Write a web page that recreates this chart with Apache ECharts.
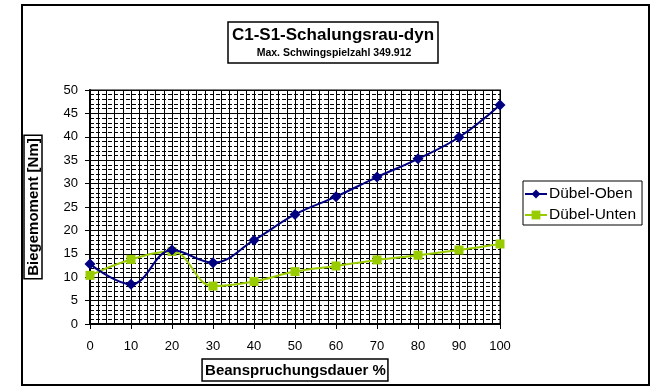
<!DOCTYPE html>
<html><head><meta charset="utf-8">
<script src="https://cdn.jsdelivr.net/npm/echarts@6/dist/echarts.min.js"></script>
<style>html,body{margin:0;padding:0;background:#fff}#c{width:655px;height:390px}</style>
</head><body><div id="c"></div>
<script>
const xValues = [0, 10, 20, 30, 40, 50, 60, 70, 80, 90, 100];
const obenValues = [12.8, 8.5, 15.8, 13.1, 17.9, 23.4, 27.2, 31.4, 35.3, 39.9, 46.8];
const untenValues = [10.4, 13.8, 15.5, 8.1, 9.1, 11.2, 12.4, 13.7, 14.7, 15.8, 17.1];
const seriesNames = ['Dübel-Oben', 'Dübel-Unten'];
const titleText = 'C1-S1-Schalungsrau-dyn';
const subText = 'Max. Schwingspielzahl 349.912';
const xTitle = 'Beanspruchungsdauer %';
const yTitle = 'Biegemoment [Nm]';

const font = 'Arial, "Liberation Sans", sans-serif';
const chart = echarts.init(document.getElementById('c'), null, {renderer: 'canvas'});
const pairs = vals => xValues.map((x, i) => [x, vals[i]]);

chart.setOption({
  animation: false,
  backgroundColor: '#fff',
  textStyle: {fontFamily: font},
  legend: {
    orient: 'vertical', left: 523, top: 181,
    borderColor: '#000', borderWidth: 1,
    padding: [5, 6, 2, 1], itemGap: 5,
    itemWidth: 22, itemHeight: 11,
    textStyle: {fontFamily: font, fontSize: 15.5, color: '#000', padding: [0, 0, 0, -3]},
    data: seriesNames
  },
  graphic: [{
    type: 'rect', shape: {x: 22, y: 5, width: 627, height: 380},
    style: {fill: 'none', stroke: '#000', lineWidth: 2}, z: 100, silent: true
  }, {
    type: 'rect', shape: {x: 228, y: 22, width: 210, height: 41},
    style: {fill: '#fff', stroke: '#000', lineWidth: 1.5}, z: 100, silent: true
  }, {
    type: 'text', x: 333, y: 35, z: 101, silent: true,
    style: {text: titleText, font: 'bold 17px ' + font, fill: '#000', align: 'center', verticalAlign: 'middle'}
  }, {
    type: 'text', x: 334, y: 53, z: 101, silent: true,
    style: {text: subText, font: 'bold 10.5px ' + font, fill: '#000', align: 'center', verticalAlign: 'middle'}
  }],
  grid: {left: 90, right: 155, top: 90, bottom: 66, show: true, borderColor: '#808080', borderWidth: 2, backgroundColor: 'transparent', containLabel: false, outerBoundsMode: 'none'},
  xAxis: {
    type: 'value', min: 0, max: 100, interval: 10,
    name: xTitle, nameLocation: 'middle', nameGap: 35,
    nameTextStyle: {fontFamily: font, fontSize: 15, fontWeight: 'bold', color: '#000', borderColor: '#000', borderWidth: 1.5, padding: [4, 2, 3, 3]},
    axisLine: {show: true, onZero: false, lineStyle: {color: '#000', width: 2}},
    axisTick: {show: true, length: 5, lineStyle: {color: '#000'}},
    axisLabel: {fontFamily: font, fontSize: 13, color: '#000', margin: 16},
    splitLine: {show: true, lineStyle: {color: '#000', width: 1}},
    minorTick: {show: false, splitNumber: 5},
    minorSplitLine: {show: true, lineStyle: {color: '#000', width: 1}}
  },
  yAxis: {
    type: 'value', min: 0, max: 50, interval: 5,
    name: yTitle, nameLocation: 'middle', nameGap: 48, nameRotate: 90,
    nameTextStyle: {fontFamily: font, fontSize: 15, fontWeight: 'bold', color: '#000', borderColor: '#000', borderWidth: 1.5, padding: [2, 3, 1, 3]},
    axisLine: {show: true, onZero: false, lineStyle: {color: '#000', width: 2}},
    axisTick: {show: true, length: 5, lineStyle: {color: '#000'}},
    axisLabel: {fontFamily: font, fontSize: 13, color: '#000', margin: 12},
    splitLine: {show: true, lineStyle: {color: '#000', width: 1}},
    minorTick: {show: false, splitNumber: 5},
    minorSplitLine: {show: true, lineStyle: {color: '#000', width: 1, type: [4, 2]}}
  },
  series: [{
    name: seriesNames[0], type: 'line', data: pairs(obenValues), smooth: 0.4,
    symbol: 'diamond', symbolSize: 11,
    lineStyle: {color: '#000080', width: 2}, itemStyle: {color: '#000080'}, z: 5
  }, {
    name: seriesNames[1], type: 'line', data: pairs(untenValues), smooth: 0.4,
    symbol: 'rect', symbolSize: 9,
    lineStyle: {color: '#99CC00', width: 2}, itemStyle: {color: '#99CC00'}, z: 4
  }]
});
</script></body></html>
